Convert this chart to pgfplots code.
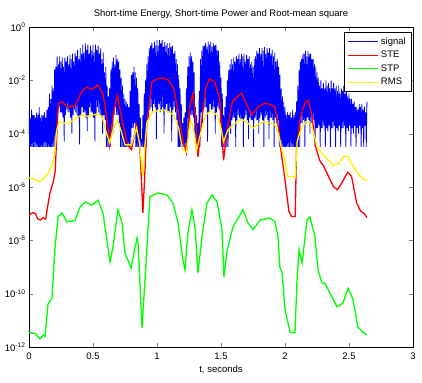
\documentclass[border=0pt]{standalone}
\usepackage{fontspec}
\setmainfont{Liberation Sans}
\usepackage{pgfplots}
\pgfplotsset{compat=1.18}
\begin{document}
\begin{tikzpicture}
\begin{axis}[
  scale only axis, width=384pt, height=320pt,
  xmin=0, xmax=3, ymode=log, ymin=1e-12, ymax=1,
  xtick={0,0.5,1,1.5,2,2.5,3}, xticklabels={0,0.5,1,1.5,2,2.5,3},
  ytick={1e-12,1e-10,1e-8,1e-6,1e-4,1e-2,1},
  yticklabels={10\textsuperscript{-12},10\textsuperscript{-10},10\textsuperscript{-8},10\textsuperscript{-6},10\textsuperscript{-4},10\textsuperscript{-2},10\textsuperscript{0}},
  yminorticks=false,
  tick align=inside, major tick length=4pt,
  every tick label/.append style={font=\fontsize{9.5}{11}\selectfont},
  xticklabel style={yshift=-2pt},
  title={Short-time Energy, Short-time Power and Root-mean square},
  title style={font=\fontsize{9.5}{11}\selectfont, yshift=-1pt},
  xlabel={t, seconds},
  xlabel style={font=\fontsize{9.5}{11}\selectfont, yshift=1pt},
  legend style={at={(1,1)}, anchor=north east, xshift=-2pt, yshift=-5pt,
    font=\fontsize{9.5}{11}\selectfont, row sep=1.5pt, inner sep=3pt},
  legend cell align=left,
  legend image post style={xscale=1.8},
]
\addplot[blue, line width=0.8pt] coordinates {
(0,6.3e-4)(0.005,3.2e-5)(0.01,4e-4)(0.015,3.2e-5)(0.02,7.9e-4)(0.025,3.2e-5)(0.03,5e-4)(0.035,3.2e-5)
(0.04,5e-4)(0.045,3.2e-5)(0.05,4e-4)(0.055,3.2e-5)(0.06,6.3e-4)(0.065,3.2e-5)(0.07,5e-4)(0.075,3.2e-5)
(0.08,1e-3)(0.085,3.2e-5)(0.09,4e-4)(0.095,3.2e-5)(0.10,5e-4)(0.105,3.2e-5)(0.11,5e-4)(0.115,3.2e-5)
(0.12,6.3e-4)(0.125,3.2e-5)(0.13,4e-4)(0.135,3.2e-5)(0.14,7.9e-4)(0.145,3.2e-5)(0.15,1e-3)(0.155,3.2e-5)
(0.16,3.2e-3)(0.165,3.2e-5)(0.17,2e-3)(0.175,3.2e-5)(0.18,6.3e-3)(0.185,3.2e-5)(0.19,5e-3)(0.195,3.2e-5)
(0.20,0.025)(0.205,3.2e-5)(0.21,0.032)(0.215,3.2e-5)(0.22,0.079)(0.225,5e-4)(0.23,0.04)(0.235,1e-3)
(0.24,0.079)(0.245,6.3e-4)(0.25,0.05)(0.255,6.3e-4)(0.26,0.071)(0.265,4e-4)(0.27,0.032)(0.275,5e-5)
(0.28,0.071)(0.285,5e-4)(0.29,0.05)(0.295,7.9e-4)(0.30,0.079)(0.305,6.3e-4)(0.31,0.04)(0.315,6.3e-4)
(0.32,0.089)(0.325,4e-4)(0.33,0.063)(0.335,1e-4)(0.34,0.1)(0.345,5e-4)(0.35,0.05)(0.355,7.9e-4)
(0.36,0.11)(0.365,6.3e-4)(0.37,0.079)(0.375,5e-4)(0.38,0.14)(0.385,4e-4)(0.39,0.063)(0.395,4e-5)
(0.40,0.16)(0.405,5e-4)(0.41,0.1)(0.415,1e-3)(0.42,0.22)(0.425,6.3e-4)(0.43,0.11)(0.435,6.3e-4)
(0.44,0.25)(0.445,4e-4)(0.45,0.14)(0.455,1.26e-4)(0.46,0.22)(0.465,5e-4)(0.47,0.1)(0.475,1e-3)
(0.48,0.2)(0.485,6.3e-4)(0.49,0.13)(0.495,6.3e-4)(0.50,0.22)(0.505,4e-4)(0.51,0.11)(0.515,5e-5)
(0.52,0.22)(0.525,5e-4)(0.53,0.14)(0.535,1e-3)(0.54,0.2)(0.545,6.3e-4)(0.55,0.1)(0.555,5e-4)
(0.56,0.16)(0.565,4e-4)(0.57,0.063)(0.575,1e-4)(0.58,0.11)(0.585,5e-4)(0.59,0.02)(0.595,3.2e-4)
(0.60,0.032)(0.605,3.2e-5)(0.61,6.3e-3)(0.615,3.2e-5)(0.62,2.5e-3)(0.625,3.2e-5)(0.63,5e-3)(0.635,3.2e-5)
(0.64,0.025)(0.645,2e-4)(0.65,0.05)(0.655,1e-4)(0.66,0.071)(0.665,5e-4)(0.67,0.04)(0.675,1e-3)
(0.68,0.089)(0.685,5e-4)(0.69,0.063)(0.695,5e-4)(0.70,0.05)(0.705,2.5e-4)(0.71,0.025)(0.715,3.2e-5)
(0.72,0.0126)(0.725,3.2e-5)(0.73,6.3e-3)(0.735,3.2e-5)(0.74,3.2e-3)(0.745,3.2e-5)(0.75,2e-3)(0.755,3.2e-5)
(0.76,1.6e-3)(0.765,3.2e-5)(0.77,1.3e-3)(0.775,3.2e-5)(0.78,1e-3)(0.785,3.2e-5)(0.79,4e-3)(0.795,3.2e-5)
(0.80,0.016)(0.805,1.6e-4)(0.81,0.02)(0.815,1.6e-4)(0.82,0.032)(0.825,2.5e-4)(0.83,0.02)(0.835,3.2e-5)
(0.84,0.0126)(0.845,3.2e-5)(0.85,5e-3)(0.855,3.2e-5)(0.86,1.3e-3)(0.865,3.2e-5)(0.87,4e-4)(0.875,3.2e-5)
(0.88,6.3e-5)(0.885,3.2e-5)(0.89,5e-4)(0.895,3.2e-5)(0.90,3.2e-3)(0.905,3.2e-5)(0.91,0.01)(0.915,3.2e-5)
(0.92,0.04)(0.925,3.2e-4)(0.93,0.079)(0.935,3.2e-4)(0.94,0.16)(0.945,7.9e-4)(0.95,0.2)(0.955,1e-3)
(0.96,0.25)(0.965,6.3e-4)(0.97,0.16)(0.975,1.3e-3)(0.98,0.28)(0.985,1e-3)(0.99,0.2)(0.995,6.3e-5)
(1.00,0.32)(1.005,7.9e-4)(1.01,0.2)(1.015,1.3e-3)(1.02,0.32)(1.025,6.3e-4)(1.03,0.25)(1.035,7.9e-4)
(1.04,0.32)(1.045,1e-3)(1.05,0.18)(1.055,1e-4)(1.06,0.28)(1.065,7.9e-4)(1.07,0.2)(1.075,1.3e-3)
(1.08,0.25)(1.085,6.3e-4)(1.09,0.16)(1.095,6.3e-4)(1.10,0.25)(1.105,1e-3)(1.11,0.18)(1.115,5e-5)
(1.12,0.2)(1.125,7.9e-4)(1.13,0.1)(1.135,1e-3)(1.14,0.126)(1.145,6.3e-4)(1.15,0.063)(1.155,3.2e-4)
(1.16,0.04)(1.165,3.2e-5)(1.17,0.016)(1.175,3.2e-5)(1.18,5e-3)(1.185,3.2e-5)(1.19,1.3e-3)(1.195,3.2e-5)
(1.20,2.5e-4)(1.205,3.2e-5)(1.21,4e-4)(1.215,3.2e-5)(1.22,6.3e-4)(1.225,3.2e-5)(1.23,5e-3)(1.235,3.2e-5)
(1.24,0.032)(1.245,4e-4)(1.25,0.079)(1.255,1.6e-4)(1.26,0.11)(1.265,5e-4)(1.27,0.079)(1.275,5e-4)
(1.28,0.05)(1.285,4e-4)(1.29,0.02)(1.295,1e-4)(1.30,1e-3)(1.305,3.2e-5)(1.31,5e-4)(1.315,3.2e-5)
(1.32,2.5e-4)(1.325,3.2e-5)(1.33,4e-3)(1.335,3.2e-5)(1.34,0.063)(1.345,6.3e-4)(1.35,0.13)(1.355,2.5e-4)
(1.36,0.2)(1.365,7.9e-4)(1.37,0.2)(1.375,1e-3)(1.38,0.25)(1.385,1e-3)(1.39,0.18)(1.395,5e-5)
(1.40,0.28)(1.405,6.3e-4)(1.41,0.22)(1.415,1.3e-3)(1.42,0.28)(1.425,7.9e-4)(1.43,0.18)(1.435,7.9e-4)
(1.44,0.25)(1.445,1e-3)(1.45,0.2)(1.455,1e-4)(1.46,0.22)(1.465,6.3e-4)(1.47,0.14)(1.475,1e-3)
(1.48,0.126)(1.485,7.9e-4)(1.49,0.05)(1.495,2.5e-4)(1.50,0.0126)(1.505,3.2e-5)(1.51,3.2e-3)(1.515,3.2e-5)
(1.52,5e-4)(1.525,3.2e-5)(1.53,1e-3)(1.535,3.2e-5)(1.54,2.5e-3)(1.545,3.2e-5)(1.55,0.01)(1.555,3.2e-5)
(1.56,0.025)(1.565,1.6e-4)(1.57,0.04)(1.575,1e-4)(1.58,0.063)(1.585,3.2e-4)(1.59,0.04)(1.595,4e-4)
(1.60,0.071)(1.605,4e-4)(1.61,0.05)(1.615,3.2e-5)(1.62,0.079)(1.625,3.2e-4)(1.63,0.063)(1.635,5e-4)
(1.64,0.1)(1.645,4e-4)(1.65,0.063)(1.655,3.2e-4)(1.66,0.1)(1.665,3.2e-4)(1.67,0.079)(1.675,3.2e-5)
(1.68,0.1)(1.685,4e-4)(1.69,0.05)(1.695,5e-4)(1.70,0.089)(1.705,3.2e-4)(1.71,0.063)(1.715,6.3e-5)
(1.72,0.079)(1.725,4e-4)(1.73,0.04)(1.735,3.2e-4)(1.74,0.05)(1.745,3.2e-4)(1.75,0.032)(1.755,3.2e-5)
(1.76,0.063)(1.765,4e-4)(1.77,0.079)(1.775,3.2e-4)(1.78,0.126)(1.785,3.2e-4)(1.79,0.1)(1.795,1e-4)
(1.80,0.16)(1.805,4e-4)(1.81,0.1)(1.815,5e-4)(1.82,0.16)(1.825,3.2e-4)(1.83,0.13)(1.835,3.2e-5)
(1.84,0.18)(1.845,4e-4)(1.85,0.1)(1.855,5e-4)(1.86,0.16)(1.865,3.2e-4)(1.87,0.11)(1.875,6.3e-5)
(1.88,0.16)(1.885,4e-4)(1.89,0.1)(1.895,4e-4)(1.90,0.14)(1.905,3.2e-4)(1.91,0.079)(1.915,3.2e-5)
(1.92,0.11)(1.925,4e-4)(1.93,0.05)(1.935,2.5e-4)(1.94,0.063)(1.945,3.2e-4)(1.95,0.032)(1.955,3.2e-5)
(1.96,0.016)(1.965,3.2e-5)(1.97,5e-3)(1.975,3.2e-5)(1.98,2.5e-3)(1.985,3.2e-5)(1.99,1.6e-3)(1.995,3.2e-5)
(2.00,1e-3)(2.005,3.2e-5)(2.01,5e-4)(2.015,3.2e-5)(2.02,6.3e-4)(2.025,3.2e-5)(2.03,5e-4)(2.035,3.2e-5)
(2.04,6.3e-4)(2.045,3.2e-5)(2.05,4e-4)(2.055,3.2e-5)(2.06,7.9e-4)(2.065,3.2e-5)(2.07,5e-4)(2.075,3.2e-5)
(2.08,6.3e-4)(2.085,3.2e-5)(2.09,1.6e-3)(2.095,3.2e-5)(2.10,6.3e-3)(2.105,3.2e-5)(2.11,0.025)(2.115,3.2e-5)
(2.12,0.05)(2.125,2.5e-4)(2.13,0.063)(2.135,2.5e-4)(2.14,0.1)(2.145,3.2e-4)(2.15,0.1)(2.155,3.2e-5)
(2.16,0.126)(2.165,2.5e-4)(2.17,0.079)(2.175,4e-4)(2.18,0.126)(2.185,3.2e-4)(2.19,0.1)(2.195,1e-4)
(2.20,0.1)(2.205,2.5e-4)(2.21,0.063)(2.215,3.2e-4)(2.22,0.063)(2.225,3.2e-4)(2.23,0.04)(2.235,3.2e-5)
(2.24,0.032)(2.245,1.6e-4)(2.25,0.02)(2.255,1.6e-4)(2.26,0.0126)(2.265,2e-4)(2.27,6.3e-3)(2.275,3.2e-5)
(2.28,0.01)(2.285,1.6e-4)(2.29,5e-3)(2.295,1.6e-4)(2.30,7.9e-3)(2.305,2e-4)(2.31,5e-3)(2.315,3.2e-5)
(2.32,0.01)(2.325,1.6e-4)(2.33,6.3e-3)(2.335,1.26e-4)(2.34,7.9e-3)(2.345,2e-4)(2.35,5e-3)(2.355,3.2e-5)
(2.36,0.01)(2.365,1.6e-4)(2.37,5e-3)(2.375,1.6e-4)(2.38,7.9e-3)(2.385,2e-4)(2.39,5e-3)(2.395,3.2e-5)
(2.40,6.3e-3)(2.405,1.6e-4)(2.41,4e-3)(2.415,1.26e-4)(2.42,6.3e-3)(2.425,2e-4)(2.43,3.2e-3)(2.435,3.2e-5)
(2.44,5e-3)(2.445,1.6e-4)(2.45,4e-3)(2.455,1.6e-4)(2.46,6.3e-3)(2.465,2e-4)(2.47,3.2e-3)(2.475,3.2e-5)
(2.48,5e-3)(2.485,1.6e-4)(2.49,2.5e-3)(2.495,1.26e-4)(2.50,3.2e-3)(2.505,2e-4)(2.51,2e-3)(2.515,3.2e-5)
(2.52,2e-3)(2.525,1.6e-4)(2.53,1.3e-3)(2.535,1e-4)(2.54,1.6e-3)(2.545,2e-4)(2.55,1e-3)(2.555,3.2e-5)
(2.56,1e-3)(2.565,1.6e-4)(2.57,7.9e-4)(2.575,1e-4)(2.58,1.3e-3)(2.585,2e-4)(2.59,1e-3)(2.595,3.2e-5)
(2.60,1.3e-3)(2.605,1.6e-4)(2.61,7.9e-4)(2.615,3.2e-5)(2.62,1e-3)(2.625,2e-4)(2.63,6.3e-4)(2.635,3.2e-5)
(2.64,1.6e-3)
};
\addlegendentry{signal}
\addplot[red, line width=1.3pt] coordinates {
(0.00,8.9e-8)(0.03,1.1e-7)(0.05,1e-7)(0.07,6.3e-8)(0.09,5.8e-8)(0.11,7.1e-8)(0.13,6.3e-8)(0.145,1.8e-7)(0.165,6.3e-7)
(0.19,1.6e-6)(0.205,4e-6)(0.22,2e-4)(0.23,1.4e-3)(0.26,1.6e-3)(0.30,1e-3)(0.36,1.1e-3)(0.41,3.6e-3)(0.45,5.6e-3)(0.49,4.5e-3)
(0.54,6.8e-3)(0.58,2.8e-3)(0.61,3.2e-4)(0.63,3.8e-5)(0.66,6.3e-4)(0.69,2.8e-3)(0.73,2.8e-4)(0.77,3.8e-5)(0.80,2.5e-5)
(0.84,2.1e-4)(0.865,3.8e-5)(0.88,1.26e-6)(0.89,1.07e-7)(0.905,3.2e-6)(0.92,2.1e-4)(0.96,8.7e-3)(1.00,0.0112)(1.05,0.0123)
(1.09,0.01)(1.13,5.1e-3)(1.17,5e-4)(1.20,6.3e-5)(1.23,1.9e-5)(1.255,1e-3)(1.28,3.2e-3)(1.30,5e-4)(1.32,1.35e-5)(1.35,3.2e-4)
(1.38,5e-3)(1.41,0.0112)(1.45,8.9e-3)(1.49,2e-3)(1.52,1e-5)(1.55,1.6e-4)(1.59,1.6e-3)(1.66,3.4e-3)(1.70,1.26e-3)(1.74,5e-4)
(1.79,1e-3)(1.84,1.4e-3)(1.88,1.26e-3)(1.92,1e-3)(1.95,1.6e-4)(1.97,2e-5)(2.00,1.8e-6)(2.03,1.26e-7)(2.05,7.9e-8)(2.08,7.9e-8)
(2.09,3.2e-5)(2.12,4e-4)(2.16,1.6e-3)(2.18,1.8e-3)(2.21,5e-4)(2.24,3.2e-5)(2.27,1e-5)(2.30,6.3e-6)(2.34,2.5e-6)(2.38,1e-6)
(2.41,7.9e-7)(2.45,1.6e-6)(2.49,3.6e-6)(2.52,2.5e-6)(2.56,2.5e-7)(2.59,1.26e-7)(2.62,1e-7)(2.64,7.1e-8)
};
\addlegendentry{STE}
\addplot[green, line width=1.3pt] coordinates {
(0.00,3.5e-12)(0.047,3.2e-12)(0.086,2e-12)(0.11,2.8e-12)(0.125,2.5e-12)(0.148,4e-11)(0.18,6.9e-11)(0.203,5e-9)(0.227,7.6e-8)
(0.258,1.07e-7)(0.297,4.9e-8)(0.36,5.6e-8)(0.40,1.8e-7)(0.44,2.75e-7)(0.49,2.1e-7)(0.54,3.2e-7)(0.578,1.07e-7)(0.633,1.55e-9)
(0.656,5.6e-9)(0.695,1.4e-7)(0.727,4.5e-8)(0.75,3.4e-9)(0.797,9.1e-10)(0.844,1.23e-8)(0.852,7.9e-9)(0.883,5.1e-12)(0.906,3.2e-10)
(0.945,4.3e-7)(1.008,6e-7)(1.078,5e-7)(1.125,2.5e-7)(1.164,4.5e-8)(1.203,1.8e-9)(1.219,7.8e-10)(1.242,2e-8)(1.273,1.4e-7)
(1.297,3.2e-8)(1.32,6e-10)(1.352,1.4e-8)(1.39,2.5e-7)(1.43,5e-7)(1.469,2.8e-7)(1.508,2.5e-8)(1.523,4.3e-10)(1.547,4e-9)
(1.594,3.2e-8)(1.672,1.4e-7)(1.711,4.5e-8)(1.75,2.5e-8)(1.805,5.8e-8)(1.883,6.9e-8)(1.922,4.9e-8)(1.945,1.4e-8)(1.96,1e-9)
(1.977,6.3e-10)(2.0,2.5e-11)(2.04,3.6e-12)(2.078,3.4e-12)(2.094,3.2e-10)(2.11,4.4e-9)(2.133,1.4e-9)(2.172,5.8e-8)(2.195,7.6e-8)
(2.234,1.4e-8)(2.258,7.8e-10)(2.289,2.5e-10)(2.3125,2.5e-10)(2.35,1.07e-10)(2.406,3.2e-11)(2.453,4.5e-11)(2.492,1.6e-10)
(2.53,6.3e-11)(2.57,5.6e-12)(2.61,3.5e-12)(2.64,2.8e-12)
};
\addlegendentry{STP}
\addplot[yellow, line width=1.3pt] coordinates {
(0.00,2.2e-6)(0.04,2e-6)(0.07,1.6e-6)(0.10,1.8e-6)(0.13,2.5e-6)(0.16,4e-6)(0.18,6.3e-6)(0.20,1.6e-5)(0.215,1.26e-4)
(0.235,2.8e-4)(0.27,2.5e-4)(0.31,2.5e-4)(0.36,3.5e-4)(0.41,5e-4)(0.46,4.5e-4)(0.50,5e-4)(0.53,5.6e-4)(0.57,4.5e-4)
(0.60,1.26e-4)(0.63,4.5e-5)(0.66,1.6e-4)(0.69,3.2e-4)(0.72,1.26e-4)(0.75,3.8e-5)(0.80,3.8e-5)(0.84,1.6e-4)(0.865,4e-5)
(0.88,6.3e-6)(0.89,2.5e-6)(0.905,3.2e-5)(0.92,2.5e-4)(0.96,6.5e-4)(1.00,7.1e-4)(1.05,7.8e-4)(1.10,6.3e-4)(1.13,5e-4)
(1.17,1.6e-4)(1.20,2.5e-5)(1.23,2e-5)(1.26,3.2e-4)(1.28,2e-4)(1.31,2.5e-5)(1.34,1e-4)(1.38,5e-4)(1.42,7.1e-4)(1.47,5e-4)
(1.50,1.6e-4)(1.52,5e-5)(1.55,1.26e-4)(1.59,2.1e-4)(1.66,3.5e-4)(1.71,2.5e-4)(1.75,1.6e-4)(1.79,2.2e-4)(1.83,2.8e-4)
(1.88,2.5e-4)(1.92,2.2e-4)(1.95,1e-4)(1.97,3.2e-5)(2.00,1e-5)(2.02,2.5e-6)(2.08,2.4e-6)(2.095,5e-5)(2.12,1.26e-4)
(2.16,2.8e-4)(2.19,2.8e-4)(2.22,1.26e-4)(2.25,3.2e-5)(2.29,1.8e-5)(2.34,1e-5)(2.38,6.3e-6)(2.42,7.9e-6)(2.46,1.4e-5)
(2.49,1.4e-5)(2.53,6.3e-6)(2.57,3.2e-6)(2.61,2e-6)(2.64,1.8e-6)
};
\addlegendentry{RMS}
\end{axis}
\pgfresetboundingbox
\path ([xshift=-29pt,yshift=-35pt]current axis.south west) rectangle ([xshift=9pt,yshift=27pt]current axis.north east);
\end{tikzpicture}
\end{document}
